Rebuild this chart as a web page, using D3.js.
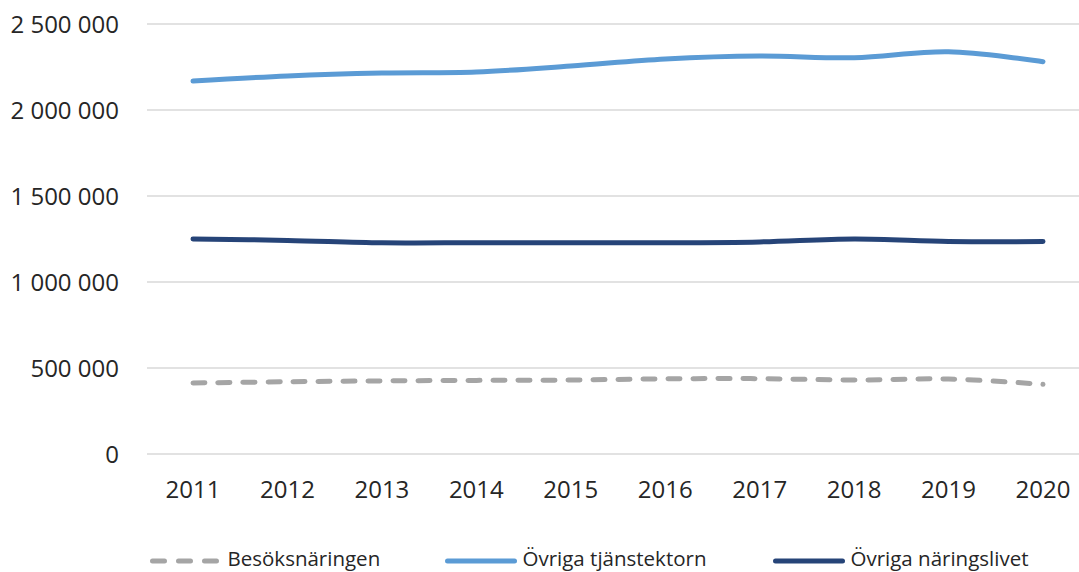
<!DOCTYPE html>
<html>
<head>
<meta charset="utf-8">
<script src="https://cdn.jsdelivr.net/npm/d3@7"></script>
<style>
  body { margin: 0; background: #fff; }
  text { font-family: "Open Sans", "Noto Sans", sans-serif; fill: #262626; }
</style>
</head>
<body>
<div id="chart"></div>
<script>
// data
let years = ["2011", "2012", "2013", "2014", "2015", "2016", "2017", "2018", "2019", "2020"];
let besok = [413000, 420000, 425000, 428000, 430000, 437000, 438000, 430000, 436000, 405000];
let tjanst = [2168000, 2198000, 2215000, 2221000, 2256000, 2297000, 2314000, 2304000, 2339000, 2281000];
let naring = [1250000, 1242000, 1228000, 1228000, 1228000, 1228000, 1233000, 1250000, 1236000, 1235000];
let yTicks = [0, 500000, 1000000, 1500000, 2000000, 2500000];

let seriesNames = ["Besöksnäringen", "Övriga tjänstektorn", "Övriga näringslivet"];

let width = 1079;
let height = 572;

let svg = d3.select("#chart")
    .append("svg")
    .attr("width", width)
    .attr("height", height);

// scales
let x = d3.scalePoint()
    .domain(years)
    .range([193, 1043]);

let y = d3.scaleLinear()
    .domain([0, 2500000])
    .range([454, 24]);

let fmt = function (d) {
    return d3.format(",")(d).replace(/,/g, " ");
};

// gridlines
svg.append("g")
    .selectAll("line")
    .data(yTicks)
    .enter()
    .append("line")
    .attr("x1", 147)
    .attr("x2", 1090)
    .attr("y1", function (d) { return y(d); })
    .attr("y2", function (d) { return y(d); })
    .attr("stroke", "#d9d9d9")
    .attr("stroke-width", 1.5);

// y labels
svg.append("g")
    .selectAll("text")
    .data(yTicks)
    .enter()
    .append("text")
    .attr("x", 119)
    .attr("y", function (d) { return y(d) + 8.5; })
    .attr("text-anchor", "end")
    .attr("font-size", "24px")
    .text(fmt);

// x labels
svg.append("g")
    .selectAll("text")
    .data(years)
    .enter()
    .append("text")
    .attr("x", function (d) { return x(d); })
    .attr("y", 498)
    .attr("text-anchor", "middle")
    .attr("font-size", "24px")
    .text(function (d) { return d; });

// series
let series = [
    { name: seriesNames[0], values: besok, color: "#a5a5a5", dash: "12,13" },
    { name: seriesNames[1], values: tjanst, color: "#5b9bd5", dash: null },
    { name: seriesNames[2], values: naring, color: "#264478", dash: null }
];

let line = d3.line()
    .x(function (d, i) { return x(years[i]); })
    .y(function (d) { return y(d); })
    .curve(d3.curveCatmullRom.alpha(0.5));

svg.append("g")
    .selectAll("path")
    .data(series)
    .enter()
    .append("path")
    .attr("d", function (d) { return line(d.values); })
    .attr("fill", "none")
    .attr("stroke", function (d) { return d.color; })
    .attr("stroke-width", 5)
    .attr("stroke-linecap", "round")
    .attr("stroke-dasharray", function (d) { return d.dash; });

// legend
let legendX = [152.5, 447.5, 775.5];
let legend = svg.append("g")
    .selectAll("g")
    .data(series)
    .enter()
    .append("g")
    .attr("transform", function (d, i) { return "translate(" + legendX[i] + ",561)"; });

legend.append("line")
    .attr("x1", 0)
    .attr("x2", 67)
    .attr("stroke", function (d) { return d.color; })
    .attr("stroke-width", 5)
    .attr("stroke-linecap", "round")
    .attr("stroke-dasharray", function (d) { return d.dash ? "12,14" : null; });

legend.append("text")
    .attr("x", 75)
    .attr("y", 4.5)
    .attr("font-size", "20.5px")
    .text(function (d) { return d.name; });
</script>
</body>
</html>
